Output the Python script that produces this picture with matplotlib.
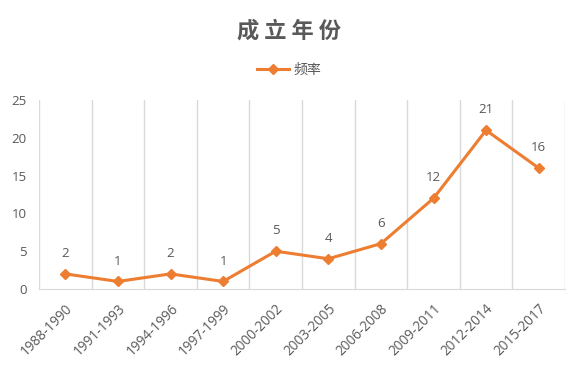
import matplotlib
matplotlib.use("Agg")
import matplotlib.pyplot as plt
import numpy as np

plt.rcParams['font.family'] = ['Noto Sans CJK SC', 'DejaVu Sans']
num_font = ['Open Sans', 'DejaVu Sans']

categories = ["1988-1990", "1991-1993", "1994-1996", "1997-1999", "2000-2002",
              "2003-2005", "2006-2008", "2009-2011", "2012-2014", "2015-2017"]
counts = [2, 1, 2, 1, 5, 4, 6, 12, 21, 16]
y_ticks = [0, 5, 10, 15, 20, 25]

title = "成 立 年 份"
series_name = "频率"

line_color = "#ED7D31"
text_color = "#595959"
grid_color = "#D9D9D9"

fig = plt.figure(figsize=(5.78, 3.67), dpi=100)
ax = fig.add_axes([0.0675, 0.2125, 0.91, 0.515])

x = np.arange(len(categories))
ax.plot(x, counts, color=line_color, linewidth=2.2, marker='D', markersize=5.5,
        label=series_name, zorder=3)

for xi, v in zip(x, counts):
    ax.annotate(str(v), (xi, v), xytext=(0, 10), textcoords='offset points',
                ha='center', va='bottom', fontsize=9.5, color=text_color,
                family=num_font)

ax.set_xlim(-0.5, len(categories) - 0.5)
ax.set_ylim(0, 25)
ax.set_yticks(y_ticks)
ax.set_yticklabels([str(t) for t in y_ticks], fontsize=9.5, color=text_color,
                   family=num_font)

# category boundaries as vertical grid lines
ax.set_xticks(x)
ax.set_xticklabels(categories, rotation=45, ha='right', rotation_mode='anchor',
                   fontsize=9.8, color=text_color, family=num_font)
for b in np.arange(-0.5, len(categories), 1.0):
    ax.axvline(b, color=grid_color, linewidth=1, zorder=1)

ax.tick_params(axis='both', length=0)
ax.tick_params(axis='x', pad=9)
ax.tick_params(axis='y', pad=9)
for side in ['top', 'right', 'left']:
    ax.spines[side].set_visible(False)
ax.spines['bottom'].set_color(grid_color)

fig.text(0.5, 0.915, title, ha='center', va='center', fontsize=16,
         fontweight='bold', color=text_color)

leg = fig.legend(loc='center', bbox_to_anchor=(0.5, 0.81), frameon=False,
                 fontsize=10, handlelength=2.3, handletextpad=0.3)
for t in leg.get_texts():
    t.set_color(text_color)

fig.savefig("out.png", dpi=100)
